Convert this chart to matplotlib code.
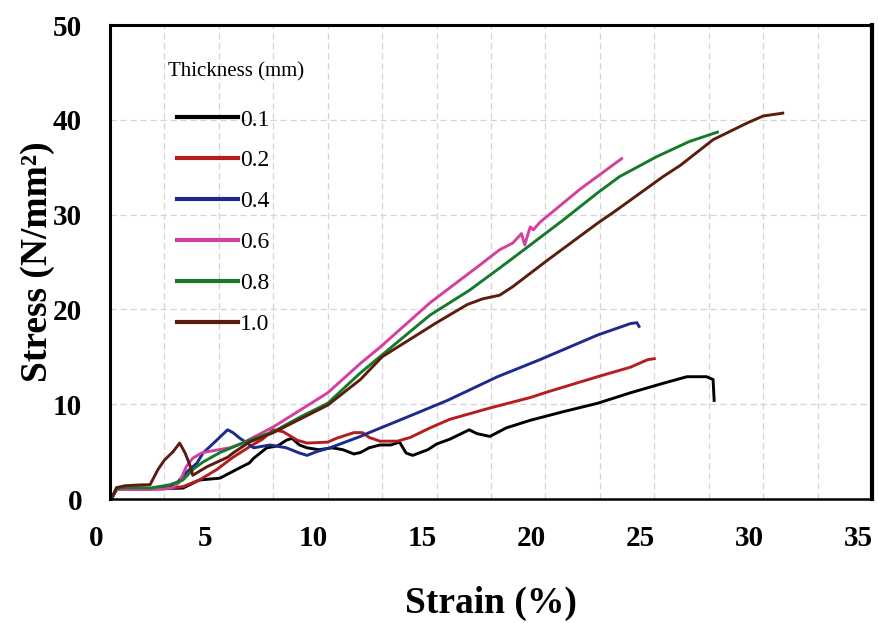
import matplotlib
matplotlib.use("Agg")
import matplotlib.pyplot as plt
import matplotlib.transforms as mtransforms
import numpy as np

# strain (%) / stress (N/mm2)
thick_labels = ["0.1", "0.2", "0.4", "0.6", "0.8", "1.0"]
colors = ["#000000", "#b41e1e", "#1c2a8c", "#d4409e", "#157a2a", "#5a1d0e"]

x_01 = [0.1, 0.3, 0.7, 1.5, 2.5, 3.35, 4.1, 5.05, 5.8, 6.4, 6.6, 7.2, 7.7, 8.1, 8.36, 8.7,
        9.05, 9.6, 10.2, 10.7, 11.2, 11.5, 11.9, 12.4, 12.9, 13.3, 13.6, 13.9, 14.6, 15.0,
        15.6, 16.5, 16.85, 17.45, 18.2, 19.3, 20.8, 22.4, 23.9, 25.4, 26.5, 27.4, 27.7, 27.75]
y_01 = [0.2, 1.0, 1.1, 1.1, 1.1, 1.15, 2.0, 2.2, 3.1, 3.8, 4.3, 5.4, 5.6, 6.2, 6.4, 5.7,
        5.4, 5.2, 5.4, 5.2, 4.75, 4.9, 5.4, 5.7, 5.7, 6.0, 4.85, 4.6, 5.2, 5.8,
        6.3, 7.3, 6.9, 6.6, 7.5, 8.3, 9.2, 10.1, 11.2, 12.2, 12.9, 12.9, 12.6, 10.4]

x_02 = [0.1, 0.3, 0.7, 1.5, 2.5, 3.35, 4.1, 4.9, 5.65, 6.4, 7.0, 7.5, 7.95, 8.6, 9.05,
        10.0, 10.4, 11.2, 11.6, 11.9, 12.4, 13.2, 13.8, 14.7, 15.6, 17.45, 19.3, 20.1,
        22.4, 23.9, 24.7, 25.0]
y_02 = [0.2, 1.0, 1.0, 1.0, 1.1, 1.3, 2.0, 3.1, 4.4, 5.5, 6.3, 7.3, 7.1, 6.2, 5.9,
        6.0, 6.4, 7.0, 7.0, 6.5, 6.1, 6.1, 6.5, 7.5, 8.4, 9.6, 10.7, 11.3,
        12.9, 13.9, 14.7, 14.8]

x_04 = [0.1, 0.3, 0.7, 1.5, 2.5, 3.0, 3.5, 4.0, 4.27, 4.9, 5.4, 5.65, 5.97, 6.3, 6.6,
        7.35, 8.1, 8.7, 9.05, 9.5, 10.1, 11.5, 11.9, 13.5, 15.5, 17.8, 19.75, 22.4,
        23.9, 24.2, 24.3]
y_04 = [0.2, 1.0, 1.1, 1.1, 1.1, 1.5, 2.8, 3.8, 4.85, 6.2, 7.3, 7.0, 6.4, 5.9, 5.4,
        5.7, 5.4, 4.85, 4.6, 5.0, 5.4, 6.6, 7.0, 8.5, 10.4, 12.9, 14.7, 17.3,
        18.5, 18.6, 18.2]

x_06 = [0.1, 0.3, 0.7, 1.5, 2.5, 2.9, 3.2, 3.5, 3.8, 4.2, 4.5, 5.5, 6.0, 7.5, 10.0,
        11.5, 12.4, 14.7, 17.0, 17.9, 18.5, 18.9, 19.05, 19.3, 19.45, 19.75, 21.6, 23.5]
y_06 = [0.2, 1.0, 1.0, 1.0, 1.05, 1.2, 1.8, 3.4, 4.3, 4.85, 5.0, 5.4, 5.8, 7.6, 11.2,
        14.3, 16.0, 20.7, 24.7, 26.3, 27.0, 28.0, 26.8, 28.7, 28.4, 29.2, 32.7, 35.9]

x_08 = [0.1, 0.3, 0.7, 1.5, 1.84, 2.75, 3.35, 3.8, 4.27, 5.05, 6.4, 7.5, 8.7, 10.0,
        11.5, 14.7, 16.5, 17.8, 18.5, 20.8, 22.4, 23.4, 25.1, 26.6, 27.9]
y_08 = [0.2, 1.1, 1.2, 1.2, 1.15, 1.5, 2.0, 3.1, 3.9, 4.9, 6.2, 7.1, 8.6, 10.1,
        13.3, 19.4, 22.0, 24.2, 25.4, 29.4, 32.3, 34.0, 36.1, 37.7, 38.7]

x_10 = [0.1, 0.3, 0.7, 1.5, 1.84, 2.2, 2.5, 2.9, 3.2, 3.45, 3.7, 3.8, 4.45, 5.4, 5.65,
        6.4, 7.5, 10.0, 11.5, 12.5, 15.0, 16.4, 17.1, 17.9, 18.5, 20.1, 22.4, 23.1, 25.4,
        26.2, 27.7, 29.3, 30.0, 30.9]
y_10 = [0.2, 1.2, 1.4, 1.5, 1.5, 3.1, 4.1, 5.0, 5.9, 4.85, 3.4, 2.5, 3.4, 4.4, 4.85,
        6.0, 7.0, 9.9, 12.6, 15.0, 18.6, 20.5, 21.1, 21.5, 22.4, 25.2, 29.1, 30.2, 34.0,
        35.2, 37.9, 39.7, 40.4, 40.7]

xs = [x_01, x_02, x_04, x_06, x_08, x_10]
ys = [y_01, y_02, y_04, y_06, y_08, y_10]

x_ticks = [0, 5, 10, 15, 20, 25, 30, 35]
y_ticks = [0, 10, 20, 30, 40, 50]

plt.rcParams['font.family'] = ['Liberation Serif', 'DejaVu Serif']

fig = plt.figure(figsize=(8.79, 6.23), dpi=100)
ax = fig.add_axes([110/879, 1 - 499/623, 762/879, 474/623])

for i in range(len(xs)):
    ax.plot(xs[i], ys[i], color=colors[i], linewidth=2.1, label=thick_labels[i],
            solid_joinstyle='round')

ax.set_xlim(0, 35)
ax.set_ylim(0, 50)

# light dashed grid, vertical every 2.5, horizontal every 10
for gx in np.arange(2.5, 35, 2.5):
    ax.axvline(gx, color='#d4d4d4', linewidth=0.9, linestyle=(0, (5, 3)), zorder=0)
for gy in [10, 20, 30, 40]:
    ax.axhline(gy, color='#d4d4d4', linewidth=0.9, linestyle=(0, (5, 3)), zorder=0)

ax.set_xticks(x_ticks)
ax.set_yticks(y_ticks)
ax.set_xticklabels([str(t) for t in x_ticks], fontsize=21, fontweight='bold')
ax.set_yticklabels([str(t) for t in y_ticks], fontsize=21, fontweight='bold')
ax.tick_params(axis='both', length=0)
ax.tick_params(axis='x', pad=19)
ax.tick_params(axis='y', pad=20)

# tick labels sit a little left of their gridline in the original
shift = mtransforms.ScaledTranslation(-0.14, 0, fig.dpi_scale_trans)
for lab in ax.get_xticklabels():
    lab.set_transform(lab.get_transform() + shift)

for side in ['left', 'top']:
    ax.spines[side].set_linewidth(2.2)
ax.spines['right'].set_linewidth(3.0)
ax.spines['bottom'].set_linewidth(1.8)

ax.set_xlabel("Strain (%)", fontsize=27, fontweight='bold', labelpad=24)
ax.set_ylabel("Stress (N/mm²)", fontsize=27, fontweight='bold')
ax.yaxis.set_label_coords(-0.072, 0.5)

ax.text((168 - 110) / 762, (499 - 72) / 474, "Thickness (mm)", transform=ax.transAxes,
        fontsize=15, ha='left', va='center')
leg = ax.legend(loc='upper left', bbox_to_anchor=((177 - 110) / 762, (499 - 109) / 474),
                frameon=False, fontsize=17,
                handlelength=2.6, handletextpad=0.08, labelspacing=0.82,
                borderpad=0, borderaxespad=0)
for line in leg.get_lines():
    line.set_linewidth(3.0)

fig.savefig("out.png", dpi=100)
